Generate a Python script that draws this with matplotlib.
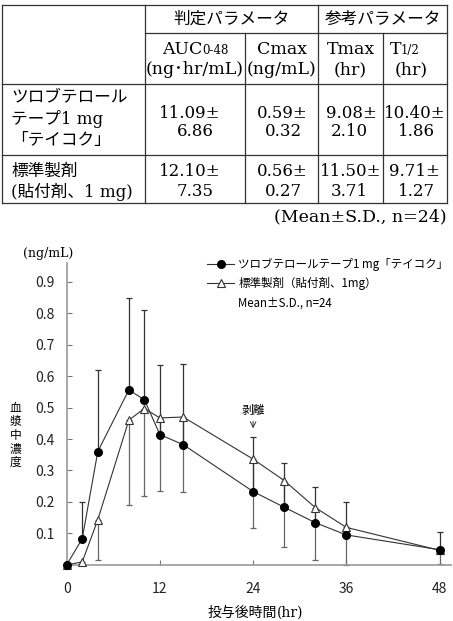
import matplotlib
matplotlib.use("Agg")
import matplotlib.pyplot as plt
from matplotlib.lines import Line2D

SANS = ['Noto Sans CJK JP', 'DejaVu Sans']
SERIF = ['DejaVu Serif', 'Noto Sans CJK JP']
plt.rcParams['font.family'] = SANS

# ---- table data ----
group_headers = ['判定パラメータ', '参考パラメータ']
param_names = ['AUC', 'Cmax', 'Tmax', 'T']
param_subs = ['0-48', '', '', '1/2']
param_units = ['(ng･hr/mL)', '(ng/mL)', '(hr)', '(hr)']
row_labels = [['ツロブテロール', 'テープ1 mg', '「テイコク」'],
              ['標準製剤', '(貼付剤、1 mg)']]
mean_vals = [['11.09', '0.59', '9.08', '10.40'],
             ['12.10', '0.56', '11.50', '9.71']]
sd_vals = [['6.86', '0.32', '2.10', '1.86'],
           ['7.35', '0.27', '3.71', '1.27']]
table_note = '(Mean±S.D., n=24)'

# ---- plasma concentration data ----
time_hr = [0, 2, 4, 8, 10, 12, 15, 24, 28, 32, 36, 48]
test_mean = [0.0, 0.083, 0.360, 0.556, 0.525, 0.414, 0.382, 0.233, 0.183, 0.134, 0.095, 0.048]
test_sd = [0.0, 0.117, 0.258, 0.291, 0.285, 0.220, 0.258, 0.173, 0.140, 0.114, 0.104, 0.055]
ref_mean = [0.0, 0.009, 0.143, 0.460, 0.497, 0.467, 0.470, 0.336, 0.268, 0.182, 0.119, 0.046]
ref_sd = [0.0, 0.009, 0.128, 0.271, 0.278, 0.233, 0.240, 0.219, 0.212, 0.168, 0.119, 0.044]
test_label = 'ツロブテロールテープ1 mg「テイコク」'
ref_label = '標準製剤（貼付剤、1mg）'
stat_label = 'Mean±S.D., n=24'
x_ticks = [0, 12, 24, 36, 48]
y_ticks = [0.1, 0.2, 0.3, 0.4, 0.5, 0.6, 0.7, 0.8, 0.9]
peel_time = 24

fig = plt.figure(figsize=(4.53, 6.21), dpi=100)

# background axes in pixel units for the table and free text
bg = fig.add_axes([0, 0, 1, 1])
bg.set_xlim(0, 453)
bg.set_ylim(621, 0)
bg.axis('off')

lc = '#333333'
lw = 0.9
# table grid
for y, x0, x1 in [(5, 2, 447), (33, 145, 447), (84, 2, 447), (155, 2, 447), (203, 2, 447)]:
    bg.plot([x0, x1], [y, y], color=lc, lw=lw)
for x, y0 in [(2, 5), (145, 5), (245, 33), (318, 5), (383, 33), (447, 5)]:
    bg.plot([x, x], [y0, 203], color=lc, lw=lw)

fs = 12.5
bg.text(231.5, 19, group_headers[0], ha='center', va='center', fontsize=12)
bg.text(382.5, 19, group_headers[1], ha='center', va='center', fontsize=12)

head_x = [195, 282, 350.5, 411]
val_x = [[190, 282, 351, 415], [190, 282, 350.5, 414]]
sd_x = [[195, 283, 349, 416], [195, 283, 349, 416]]
for i, (name, sub, unit) in enumerate(zip(param_names, param_subs, param_units)):
    if sub:
        split = 202 if i == 0 else 401
        bg.text(split, 54, name, ha='right', va='baseline', fontsize=fs, family=SERIF)
        bg.text(split, 54, sub, ha='left', va='baseline', fontsize=8.5, family=SERIF)
    else:
        bg.text(head_x[i], 54, name, ha='center', va='baseline', fontsize=fs, family=SERIF)
    bg.text(head_x[i], 70, unit, ha='center', va='center', fontsize=fs, family=SERIF)

label_y = [[97, 118.5, 140], [171.5, 191.5]]
value_y = [[113, 132], [171.5, 191.5]]
for r in range(2):
    for line, y in zip(row_labels[r], label_y[r]):
        bg.text(11, y, line, ha='left', va='center', fontsize=12, family=SERIF)
    for c in range(4):
        bg.text(val_x[r][c], value_y[r][0], mean_vals[r][c] + '±', ha='center', va='center',
                fontsize=12, family=SERIF)
        bg.text(sd_x[r][c], value_y[r][1], sd_vals[r][c], ha='center', va='center',
                fontsize=12, family=SERIF)

bg.text(447, 217, table_note, ha='right', va='center', fontsize=fs, family=SERIF)

# ---- chart ----
ax = fig.add_axes([66.7 / 453, 1 - 564.8 / 621, (451.2 - 66.7) / 453, (564.8 - 262.9) / 621])
ax.set_xlim(0, 49.5)
ax.set_ylim(0, 0.96)

line_c = '#333333'
ax.errorbar(time_hr, ref_mean, yerr=[ref_sd, [0] * len(ref_sd)], fmt='none',
            ecolor='#666666', elinewidth=0.9, capsize=2.5, capthick=0.9, clip_on=False)
ax.errorbar(time_hr, test_mean, yerr=[[0] * len(test_sd), test_sd], fmt='none',
            ecolor='#333333', elinewidth=0.9, capsize=2.5, capthick=0.9, clip_on=False)
ax.plot(time_hr, ref_mean, color=line_c, lw=0.8, marker='^', markersize=6,
        markerfacecolor='white', markeredgecolor='#333333', markeredgewidth=0.8,
        clip_on=False, zorder=3)
ax.plot(time_hr, test_mean, color=line_c, lw=0.8, marker='o', markersize=5.5,
        markerfacecolor='black', markeredgecolor='black', clip_on=False, zorder=4)

for s in ['top', 'right']:
    ax.spines[s].set_visible(False)
for s in ['left', 'bottom']:
    ax.spines[s].set_color('#999999')
    ax.spines[s].set_linewidth(1.2)

ax.set_xticks(x_ticks)
ax.set_yticks(y_ticks)
ax.set_yticklabels([f'{v:.1f}' for v in y_ticks])
ax.tick_params(axis='both', direction='in', length=3.5, width=0.8, color='#777777',
               labelsize=10, labelcolor='#222222')
ax.tick_params(axis='y', pad=9)
ax.tick_params(axis='x', pad=12.5)

# peel annotation
ax.annotate('', xy=(peel_time, 0.425), xytext=(peel_time, 0.465),
            arrowprops=dict(arrowstyle='->', color='#333333', lw=0.7))
ax.text(peel_time, 0.49, '剥離', ha='center', va='center', fontsize=8.5)

handles = [Line2D([], [], color=line_c, lw=0.8, marker='o', markersize=5.5,
                  markerfacecolor='black', markeredgecolor='black'),
           Line2D([], [], color=line_c, lw=0.8, marker='^', markersize=6,
                  markerfacecolor='white', markeredgecolor='#333333', markeredgewidth=0.8),
           Line2D([], [], lw=0, marker='')]
ax.legend(handles, [test_label, ref_label, stat_label], loc='upper left',
          bbox_to_anchor=(207, 258), bbox_transform=bg.transData, frameon=False,
          fontsize=8.3, handlelength=2.35, handletextpad=0.35, labelspacing=0.55,
          borderpad=0, borderaxespad=0)

# axis labels
bg.text(48, 253, '(ng/mL)', ha='center', va='center', fontsize=9, family=SERIF)
for i, ch in enumerate('血漿中濃度'):
    bg.text(15.5, 408 + i * 13.5, ch, ha='center', va='center', fontsize=8.5)
bg.text(277, 613, '投与後時間', ha='right', va='center', fontsize=10)
bg.text(277, 613, '(hr)', ha='left', va='center', fontsize=10, family=SERIF)

fig.savefig('out.png', dpi=100)
